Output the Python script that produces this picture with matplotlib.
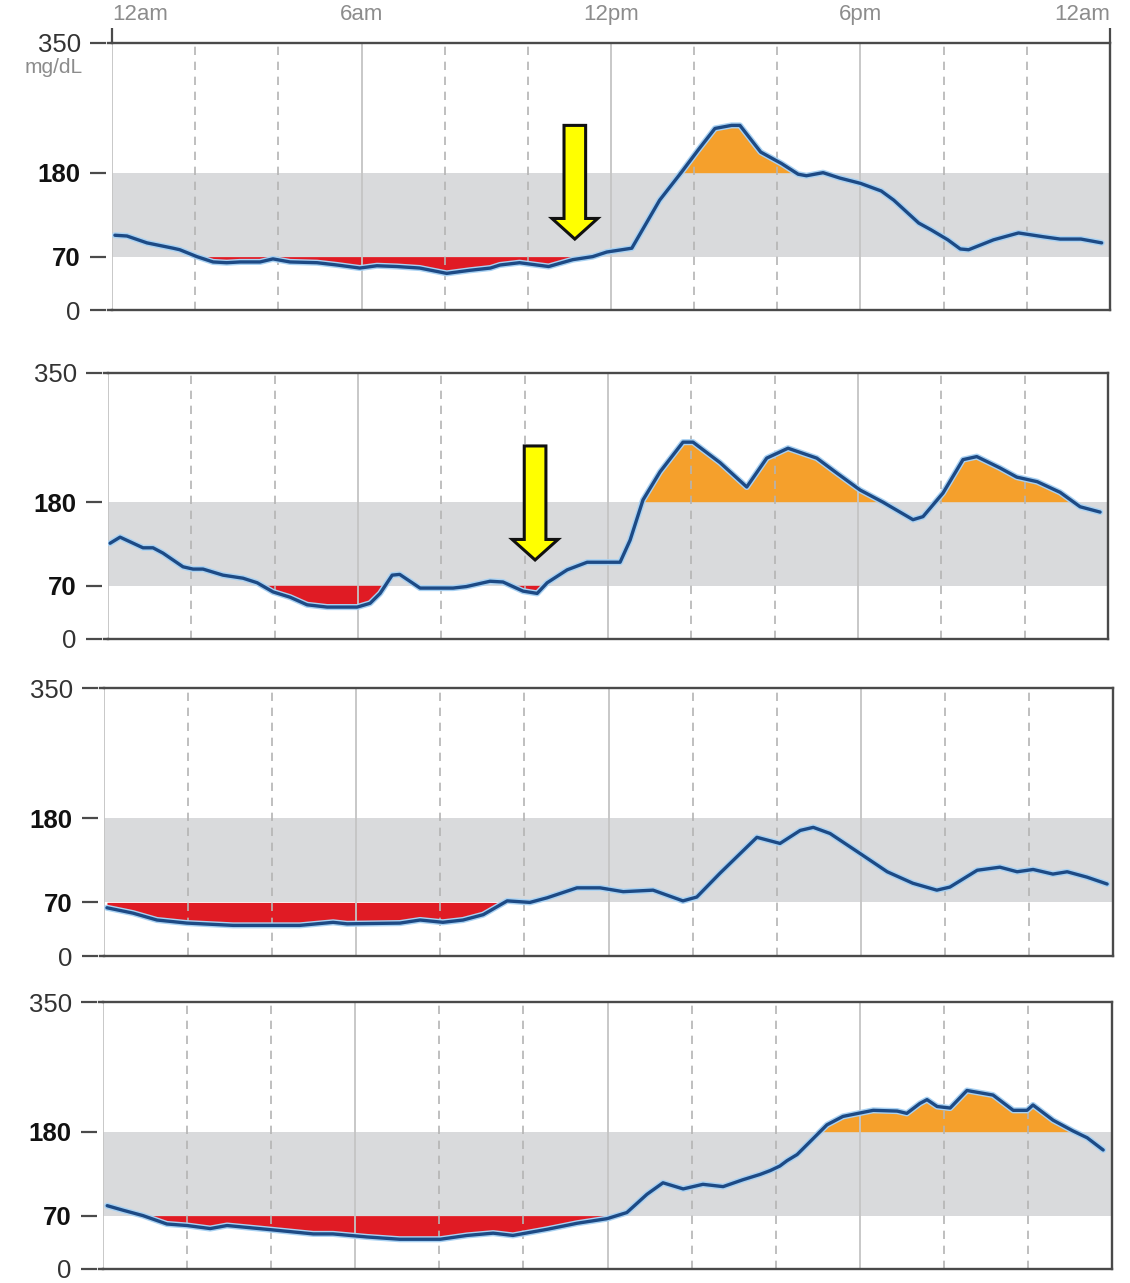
import matplotlib
matplotlib.use("Agg")
import matplotlib.pyplot as plt
import matplotlib.patheffects as pe
from matplotlib.patches import FancyArrow
import numpy as np

plt.rcParams["font.family"] = ["Liberation Sans", "DejaVu Sans"]

# ---- glucose traces (hour of day, mg/dL) ----
day1_hours = [0.07, 0.36, 0.84, 1.47, 1.63, 2.04, 2.43, 2.76, 3.08, 3.56, 3.87, 4.28, 4.93,
              5.41, 5.96, 6.37, 6.85, 7.4, 8.05, 8.6, 9.1, 9.33, 9.8, 10.5, 11.08, 11.56,
              11.9, 12.5, 13.17, 13.7, 14.1, 14.5, 14.9, 15.1, 15.6, 16.1, 16.5, 16.7,
              17.1, 17.5, 18.0, 18.5, 18.8, 19.4, 19.7, 20.1, 20.4, 20.6, 21.2, 21.8,
              22.4, 22.8, 23.3, 23.8]
day1_values = [98, 97, 88, 81, 79, 70, 63, 62, 63, 63, 67, 63, 62,
               59, 55, 58, 57, 55, 48, 52, 55, 59, 62, 57, 66, 70,
               76, 81, 144, 181, 210, 238, 242, 242, 207, 192, 178, 176,
               180, 173, 166, 156, 144, 114, 105, 92, 80, 79, 92, 101,
               96, 93, 93, 88]

day2_hours = [0.05, 0.29, 0.84, 1.08, 1.32, 1.8, 2.04, 2.28, 2.76, 3.24, 3.58, 3.96, 4.37,
              4.78, 5.26, 5.98, 6.29, 6.53, 6.82, 7.0, 7.49, 8.28, 8.6, 9.17, 9.48, 9.96,
              10.3, 10.54, 11.02, 11.5, 12.29, 12.53, 12.84, 13.25, 13.8, 14.04, 14.69,
              15.33, 15.81, 16.32, 17.01, 17.5, 18.05, 18.6, 19.32, 19.56, 20.04, 20.52,
              20.85, 21.41, 21.81, 22.3, 22.85, 23.33, 23.81]
day2_values = [126, 134, 120, 120, 113, 95, 92, 92, 84, 80, 74, 62, 55,
               45, 42, 42, 47, 60, 84, 85, 67, 67, 69, 76, 75, 63,
               60, 74, 91, 101, 101, 130, 183, 220, 259, 259, 232,
               200, 238, 251, 238, 218, 196, 180, 157, 161, 192, 236,
               240, 225, 213, 207, 193, 174, 167]

day3_hours = [0.07, 0.69, 1.26, 1.97, 3.07, 4.66, 5.45, 5.78, 7.04, 7.52, 8.06, 8.54, 9.02,
              9.59, 10.13, 10.54, 11.25, 11.8, 12.35, 13.06, 13.77, 14.1, 14.65, 15.53,
              16.08, 16.56, 16.87, 17.27, 17.98, 18.63, 19.24, 19.81, 20.12, 20.77, 21.31,
              21.72, 22.1, 22.57, 22.91, 23.38, 23.86]
day3_values = [63, 56, 47, 43, 40, 40, 44, 42, 43, 47, 44, 47, 54,
               72, 70, 76, 89, 89, 84, 86, 72, 77, 108, 155,
               147, 164, 168, 160, 134, 110, 95, 86, 90, 112, 116,
               110, 113, 107, 110, 103, 94]

day4_hours = [0.1, 0.48, 0.95, 1.52, 2.0, 2.55, 2.95, 3.9, 5.0, 5.47, 6.28, 7.06, 8.02,
              8.66, 9.28, 9.75, 10.56, 11.28, 11.99, 12.46, 12.94, 13.32, 13.8, 14.27,
              14.75, 15.22, 15.63, 15.87, 16.1, 16.27, 16.51, 17.22, 17.6, 18.32, 18.89,
              19.12, 19.43, 19.6, 19.84, 20.15, 20.55, 21.17, 21.65, 21.98, 22.12, 22.6,
              23.07, 23.41, 23.79]
day4_values = [83, 77, 70, 59, 57, 53, 57, 52, 46, 46, 42, 39, 39,
               44, 47, 44, 52, 60, 66, 74, 98, 113, 105, 111,
               108, 117, 124, 129, 135, 142, 150, 189, 200, 208, 207,
               204, 217, 222, 213, 211, 234, 228, 208, 208, 215, 195,
               181, 172, 156]

days = [(day1_hours, day1_values), (day2_hours, day2_values),
        (day3_hours, day3_values), (day4_hours, day4_values)]

# target range and axis scale
LOW, HIGH, YMAX = 70, 180, 350
y_ticks = [0, LOW, HIGH, YMAX]
y_tick_labels = ["0", "70", "180", "350"]
x_ticks = [0, 6, 12, 18, 24]
x_tick_labels = ["12am", "6am", "12pm", "6pm", "12am"]

# event markers: (panel index, hour, tail mg/dL, tip mg/dL)
markers = [(0, 11.13, 242, 93), (1, 10.25, 254, 104)]

# colours
BAND = "#d9dadc"
RED = "#e01b24"
ORANGE = "#f5a02c"
LINE = "#1d4a85"
HALO = "#a9d2f3"
GRID = "#b4b4b4"
SPINE = "#4a4a4a"

W, H = 1130, 1283
fig = plt.figure(figsize=(W / 100, H / 100), dpi=100)

# panel frames in pixels: left, top, right, bottom
frames = [(112, 43, 1110, 310), (108, 373, 1108, 639),
          (104, 688, 1113, 956), (103, 1002, 1112, 1269)]

axes = []
for i, ((hrs, vals), (l, t, r, b)) in enumerate(zip(days, frames)):
    ax = fig.add_axes([l / W, 1 - b / H, (r - l) / W, (b - t) / H])
    axes.append(ax)
    ax.set_xlim(0, 24)
    ax.set_ylim(0, YMAX)

    h = np.array(hrs, dtype=float)
    v = np.array(vals, dtype=float)

    ax.axhspan(LOW, HIGH, color=BAND, lw=0, zorder=0)
    ax.fill_between(h, v, LOW, where=v < LOW, interpolate=True,
                    color=RED, lw=0, zorder=1)
    ax.fill_between(h, v, HIGH, where=v > HIGH, interpolate=True,
                    color=ORANGE, lw=0, zorder=1)

    # vertical guides every two hours, solid at the six-hour marks
    ax.axvline(0, color="#c4c4c4", lw=1.3, zorder=2)
    for g in range(2, 24, 2):
        if g % 6 == 0:
            ax.axvline(g, color="#c4c4c4", lw=1.3, zorder=2)
        else:
            ax.axvline(g, color=GRID, lw=1.2, ls=(0, (5, 4)), zorder=2)

    ax.plot(h, v, color=LINE, lw=2.4, zorder=4, solid_joinstyle="round",
            solid_capstyle="round",
            path_effects=[pe.Stroke(linewidth=4.4, foreground=HALO), pe.Normal()])

    # frame
    ax.spines["left"].set_visible(False)
    ax.spines["left"].set_position(("outward", 4))
    for side in ("top", "bottom", "right"):
        ax.spines[side].set_color(SPINE)
        ax.spines[side].set_linewidth(1.7)
        ax.spines[side].set_zorder(5)

    # y axis
    ax.set_yticks(y_ticks)
    ax.set_yticklabels(y_tick_labels)
    ax.tick_params(axis="y", which="major", direction="out", length=11.5,
                   width=1.6, color=SPINE, pad=7, labelsize=18.5)
    for lab, val in zip(ax.get_yticklabels(), y_ticks):
        if val in (LOW, HIGH):
            lab.set_fontweight("bold")
            lab.set_color("#111111")
        else:
            lab.set_color("#333333")
    # close the small gap between the outer ticks and the frame lines
    gap = 4.5 / (r - l)
    for val in (0, YMAX):
        ax.plot([-gap, 0], [val, val], transform=ax.get_yaxis_transform(),
                color=SPINE, lw=1.7, clip_on=False, zorder=5)

    # x axis (time labels only along the top of the first panel)
    if i == 0:
        ax.set_xticks(x_ticks)
        ax.set_xticklabels(x_tick_labels)
        ax.tick_params(axis="x", which="major", top=True, bottom=False,
                       labeltop=True, labelbottom=False, length=11, width=1.6,
                       color=SPINE, pad=2, labelsize=16, labelcolor="#8c8c8c")
        ticks = ax.xaxis.get_major_ticks()
        for k, tk in enumerate(ticks):
            if k not in (0, len(ticks) - 1):
                tk.tick2line.set_visible(False)
        ticks[0].label2.set_horizontalalignment("left")
        ticks[-1].label2.set_horizontalalignment("right")
        ax.annotate("mg/dL", xy=(0, YMAX), xycoords=("axes fraction", "data"),
                    xytext=(-29, -25), textcoords="offset pixels",
                    ha="right", va="center", fontsize=15, color="#8c8c8c")
    else:
        ax.set_xticks([])
        ax.tick_params(axis="x", bottom=False, labelbottom=False)

# downward call-out arrows
for idx, hour, tail, tip in markers:
    ax = axes[idx]
    arrow = FancyArrow(hour, tail, 0, tip - tail, width=0.52, head_width=1.1,
                       head_length=27, length_includes_head=True,
                       facecolor="#ffff00", edgecolor="#111111", lw=2.2,
                       joinstyle="miter", zorder=6)
    ax.add_patch(arrow)

fig.savefig("out.png", dpi=100, facecolor="white")
